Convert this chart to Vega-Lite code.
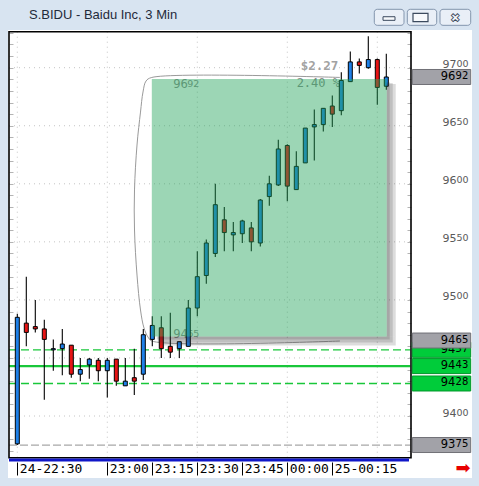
{
  "$schema": "https://vega.github.io/schema/vega-lite/v6.json",
  "width": 464,
  "height": 448,
  "autosize": {"type": "none"},
  "padding": {"left": 8, "top": 30, "right": 7, "bottom": 8},
  "background": "#d8e4f1",
  "view": {"fill": "white", "stroke": null},
  "title": {
    "text": "S.BIDU - Baidu Inc, 3 Min",
    "anchor": "start",
    "frame": "group",
    "dx": 21,
    "offset": -23,
    "baseline": "alphabetic",
    "font": "Liberation Sans",
    "fontSize": 13,
    "fontWeight": "normal",
    "color": "#1f2a3a"
  },
  "resolve": {"axis": {"x": "independent", "y": "independent"}},
  "datasets": {
    "candles": [
      {"time": "2024-06-24T22:30:00Z", "open": 9376, "high": 9488, "low": 9375, "close": 9485},
      {"time": "2024-06-24T22:33:00Z", "open": 9480, "high": 9520, "low": 9460, "close": 9472},
      {"time": "2024-06-24T22:36:00Z", "open": 9477, "high": 9500, "low": 9472, "close": 9475},
      {"time": "2024-06-24T22:39:00Z", "open": 9475, "high": 9483, "low": 9414, "close": 9466},
      {"time": "2024-06-24T22:42:00Z", "open": 9457, "high": 9466, "low": 9439, "close": 9458},
      {"time": "2024-06-24T22:45:00Z", "open": 9458, "high": 9475, "low": 9435, "close": 9462},
      {"time": "2024-06-24T22:48:00Z", "open": 9461, "high": 9461, "low": 9433, "close": 9436},
      {"time": "2024-06-24T22:51:00Z", "open": 9436, "high": 9450, "low": 9430, "close": 9440},
      {"time": "2024-06-24T22:54:00Z", "open": 9444, "high": 9450, "low": 9432, "close": 9449},
      {"time": "2024-06-24T22:57:00Z", "open": 9448, "high": 9450, "low": 9430, "close": 9439},
      {"time": "2024-06-24T23:00:00Z", "open": 9439, "high": 9450, "low": 9416, "close": 9448},
      {"time": "2024-06-24T23:03:00Z", "open": 9449, "high": 9449, "low": 9426, "close": 9430},
      {"time": "2024-06-24T23:06:00Z", "open": 9426, "high": 9450, "low": 9426, "close": 9430},
      {"time": "2024-06-24T23:09:00Z", "open": 9433, "high": 9458, "low": 9418, "close": 9430},
      {"time": "2024-06-24T23:12:00Z", "open": 9436, "high": 9475, "low": 9431, "close": 9470},
      {"time": "2024-06-24T23:15:00Z", "open": 9466, "high": 9486, "low": 9460, "close": 9478},
      {"time": "2024-06-24T23:18:00Z", "open": 9476, "high": 9486, "low": 9450, "close": 9458},
      {"time": "2024-06-24T23:21:00Z", "open": 9460, "high": 9489, "low": 9450, "close": 9455},
      {"time": "2024-06-24T23:24:00Z", "open": 9458, "high": 9464, "low": 9450, "close": 9464},
      {"time": "2024-06-24T23:27:00Z", "open": 9460, "high": 9500, "low": 9460, "close": 9493},
      {"time": "2024-06-24T23:30:00Z", "open": 9493, "high": 9542, "low": 9486, "close": 9520},
      {"time": "2024-06-24T23:33:00Z", "open": 9521, "high": 9552, "low": 9514, "close": 9549},
      {"time": "2024-06-24T23:36:00Z", "open": 9540, "high": 9600, "low": 9537, "close": 9582},
      {"time": "2024-06-24T23:39:00Z", "open": 9569, "high": 9580, "low": 9542, "close": 9558},
      {"time": "2024-06-24T23:42:00Z", "open": 9556, "high": 9567, "low": 9542, "close": 9558},
      {"time": "2024-06-24T23:45:00Z", "open": 9557, "high": 9569, "low": 9549, "close": 9568},
      {"time": "2024-06-24T23:48:00Z", "open": 9562, "high": 9567, "low": 9542, "close": 9550},
      {"time": "2024-06-24T23:51:00Z", "open": 9549, "high": 9587, "low": 9546, "close": 9586},
      {"time": "2024-06-24T23:54:00Z", "open": 9589, "high": 9607, "low": 9581, "close": 9600},
      {"time": "2024-06-24T23:57:00Z", "open": 9599, "high": 9638, "low": 9598, "close": 9630},
      {"time": "2024-06-25T00:00:00Z", "open": 9633, "high": 9634, "low": 9585, "close": 9598},
      {"time": "2024-06-25T00:03:00Z", "open": 9595, "high": 9628, "low": 9595, "close": 9615},
      {"time": "2024-06-25T00:06:00Z", "open": 9618, "high": 9648, "low": 9618, "close": 9648},
      {"time": "2024-06-25T00:09:00Z", "open": 9649, "high": 9664, "low": 9620, "close": 9651},
      {"time": "2024-06-25T00:12:00Z", "open": 9651, "high": 9665, "low": 9645, "close": 9665},
      {"time": "2024-06-25T00:15:00Z", "open": 9667, "high": 9676, "low": 9649, "close": 9660},
      {"time": "2024-06-25T00:18:00Z", "open": 9663, "high": 9696, "low": 9659, "close": 9689},
      {"time": "2024-06-25T00:21:00Z", "open": 9688, "high": 9714, "low": 9688, "close": 9705},
      {"time": "2024-06-25T00:24:00Z", "open": 9705, "high": 9708, "low": 9695, "close": 9702},
      {"time": "2024-06-25T00:27:00Z", "open": 9700, "high": 9727, "low": 9699, "close": 9707},
      {"time": "2024-06-25T00:30:00Z", "open": 9707, "high": 9708, "low": 9668, "close": 9683},
      {"time": "2024-06-25T00:33:00Z", "open": 9684, "high": 9712, "low": 9681, "close": 9692}
    ],
    "tags": [
      {"price": 9457, "big": "94", "small": "57", "tone": "alert"},
      {"price": 9375, "big": "93", "small": "75", "tone": "marker"},
      {"price": 9428, "big": "94", "small": "28", "tone": "alert"},
      {"price": 9443, "big": "94", "small": "43", "tone": "alert"},
      {"price": 9465, "big": "94", "small": "65", "tone": "marker"},
      {"price": 9692, "big": "96", "small": "92", "tone": "marker"}
    ],
    "bracket": [
      {"seq": 1, "time": "2024-06-25T00:17:34Z", "price": 9691.6},
      {"seq": 2, "time": "2024-06-24T23:14:50Z", "price": 9691.6},
      {"seq": 3, "time": "2024-06-24T23:12:54Z", "price": 9688.5},
      {"seq": 4, "time": "2024-06-24T23:11:54Z", "price": 9679.1},
      {"seq": 5, "time": "2024-06-24T23:11:04Z", "price": 9661.8},
      {"seq": 6, "time": "2024-06-24T23:09:54Z", "price": 9633.4},
      {"seq": 7, "time": "2024-06-24T23:09:04Z", "price": 9594.7},
      {"seq": 8, "time": "2024-06-24T23:09:04Z", "price": 9560.2},
      {"seq": 9, "time": "2024-06-24T23:09:54Z", "price": 9521.4},
      {"seq": 10, "time": "2024-06-24T23:11:04Z", "price": 9491.3},
      {"seq": 11, "time": "2024-06-24T23:12:14Z", "price": 9475.8},
      {"seq": 12, "time": "2024-06-24T23:13:34Z", "price": 9468.0},
      {"seq": 13, "time": "2024-06-24T23:14:50Z", "price": 9464.6},
      {"seq": 14, "time": "2024-06-25T00:17:34Z", "price": 9464.6}
    ]
  },
  "layer": [
    {
      "data": {"values": [{"price": 9400}, {"price": 9450}, {"price": 9500}, {"price": 9550}, {"price": 9600}, {"price": 9650}, {"price": 9700}]},
      "mark": {"type": "rule", "color": "#c4c4c4", "strokeDash": [1, 4], "strokeWidth": 1},
      "encoding": {
        "y": {
          "field": "price",
          "type": "quantitative",
          "axis": {
            "orient": "right",
            "offset": -61,
            "values": [9370, 9380, 9390, 9400, 9410, 9420, 9430, 9440, 9450, 9460, 9470, 9480, 9490, 9500, 9510, 9520, 9530, 9540, 9550, 9560, 9570, 9580, 9590, 9600, 9610, 9620, 9630, 9640, 9650, 9660, 9670, 9680, 9690, 9700, 9710, 9720, 9730],
            "labels": false,
            "domain": false,
            "grid": false,
            "ticks": true,
            "tickSize": -4,
            "tickColor": "#b4b4b4",
            "tickWidth": 1,
            "title": null
          }
        },
        "x": {"datum": {"year": 2024, "month": 6, "date": 24, "hours": 22, "minutes": 27, "seconds": 14, "utc": true}, "type": "temporal", "axis": null},
        "x2": {"datum": {"year": 2024, "month": 6, "date": 25, "hours": 0, "minutes": 41, "seconds": 14, "utc": true}}
      }
    },
    {
      "data": {"values": [{"t": "2024-06-24T22:30:00Z"}, {"t": "2024-06-24T23:00:00Z"}, {"t": "2024-06-24T23:30:00Z"}, {"t": "2024-06-25T00:00:00Z"}, {"t": "2024-06-25T00:30:00Z"}]},
      "mark": {"type": "rule", "color": "#c4c4c4", "strokeDash": [1, 4], "strokeWidth": 1},
      "encoding": {
        "x": {"field": "t", "type": "temporal", "axis": null},
        "y": {"datum": 9731, "type": "quantitative", "axis": null},
        "y2": {"datum": 9364}
      }
    },
    {
      "data": {"values": [{"level": 9375}]},
      "mark": {"type": "rule", "color": "#a8a8a8", "strokeDash": [8, 3], "strokeWidth": 1.2},
      "encoding": {
        "y": {
          "field": "level",
          "type": "quantitative",
          "axis": {
            "orient": "left",
            "offset": -1,
            "values": [9370, 9380, 9390, 9400, 9410, 9420, 9430, 9440, 9450, 9460, 9470, 9480, 9490, 9500, 9510, 9520, 9530, 9540, 9550, 9560, 9570, 9580, 9590, 9600, 9610, 9620, 9630, 9640, 9650, 9660, 9670, 9680, 9690, 9700, 9710, 9720, 9730],
            "labels": false,
            "domain": false,
            "grid": false,
            "ticks": true,
            "tickSize": -4,
            "tickColor": "#b4b4b4",
            "tickWidth": 1,
            "title": null
          }
        },
        "x": {"datum": {"year": 2024, "month": 6, "date": 24, "hours": 22, "minutes": 27, "seconds": 14, "utc": true}, "type": "temporal", "axis": null},
        "x2": {"datum": {"year": 2024, "month": 6, "date": 25, "hours": 0, "minutes": 41, "seconds": 0, "utc": true}}
      }
    },
    {
      "data": {"values": [{"level": 9457}, {"level": 9428}]},
      "mark": {"type": "rule", "color": "#19c73a", "strokeDash": [8, 4], "strokeWidth": 1.3},
      "encoding": {
        "y": {"field": "level", "type": "quantitative", "axis": null},
        "x": {"datum": {"year": 2024, "month": 6, "date": 24, "hours": 22, "minutes": 27, "seconds": 14, "utc": true}, "type": "temporal", "axis": null},
        "x2": {"datum": {"year": 2024, "month": 6, "date": 25, "hours": 0, "minutes": 41, "seconds": 0, "utc": true}}
      }
    },
    {
      "data": {"values": [{"level": 9443}]},
      "mark": {"type": "rule", "color": "#19c73a", "strokeWidth": 2.2},
      "encoding": {
        "y": {"field": "level", "type": "quantitative", "axis": null},
        "x": {"datum": {"year": 2024, "month": 6, "date": 24, "hours": 22, "minutes": 27, "seconds": 14, "utc": true}, "type": "temporal", "axis": null},
        "x2": {"datum": {"year": 2024, "month": 6, "date": 25, "hours": 0, "minutes": 41, "seconds": 0, "utc": true}}
      }
    },
    {
      "data": {"name": "bracket"},
      "mark": {"type": "line", "color": "#9a9a9a", "strokeWidth": 1, "interpolate": "catmull-rom"},
      "encoding": {
        "x": {"field": "time", "type": "temporal", "axis": null},
        "y": {"field": "price", "type": "quantitative", "axis": null},
        "order": {"field": "seq", "type": "quantitative"}
      }
    },
    {
      "data": {"values": [{}]},
      "mark": {"type": "text", "text": "$2.27", "align": "right", "baseline": "bottom", "dy": -4, "font": "DejaVu Sans Mono", "fontSize": 12.5, "fontWeight": "bold", "color": "#a2a2a2"},
      "encoding": {
        "x": {"datum": {"year": 2024, "month": 6, "date": 25, "hours": 0, "minutes": 17, "seconds": 0, "utc": true}, "type": "temporal", "axis": null},
        "y": {"datum": 9692, "type": "quantitative", "axis": null}
      }
    },
    {
      "data": {"values": [{}]},
      "mark": {"type": "text", "text": "2.40 %", "align": "right", "baseline": "top", "dy": 1, "font": "DejaVu Sans Mono", "fontSize": 12, "color": "#8c8c8c"},
      "encoding": {
        "x": {"datum": {"year": 2024, "month": 6, "date": 25, "hours": 0, "minutes": 17, "seconds": 34, "utc": true}, "type": "temporal", "axis": null},
        "y": {"datum": 9692, "type": "quantitative", "axis": null}
      }
    },
    {
      "data": {"values": [{"price": 9692, "big": "96", "small": "92"}]},
      "mark": {"type": "text", "align": "left", "baseline": "top", "dy": 2, "font": "DejaVu Sans", "fontSize": 11.5, "color": "#8c8c8c"},
      "encoding": {
        "x": {"datum": {"year": 2024, "month": 6, "date": 24, "hours": 23, "minutes": 22, "seconds": 0, "utc": true}, "type": "temporal", "axis": null},
        "y": {"field": "price", "type": "quantitative", "axis": null},
        "text": {"field": "big"}
      }
    },
    {
      "data": {"values": [{"price": 9692, "big": "96", "small": "92"}]},
      "mark": {"type": "text", "align": "left", "baseline": "top", "dy": 2, "dx": 14, "font": "DejaVu Sans", "fontSize": 9.5, "color": "#8c8c8c"},
      "encoding": {
        "x": {"datum": {"year": 2024, "month": 6, "date": 24, "hours": 23, "minutes": 22, "seconds": 0, "utc": true}, "type": "temporal", "axis": null},
        "y": {"field": "price", "type": "quantitative", "axis": null},
        "text": {"field": "small"}
      }
    },
    {
      "data": {"values": [{"price": 9465, "big": "94", "small": "65"}]},
      "mark": {"type": "text", "align": "left", "baseline": "top", "dy": -12, "font": "DejaVu Sans", "fontSize": 11.5, "color": "#8c8c8c"},
      "encoding": {
        "x": {"datum": {"year": 2024, "month": 6, "date": 24, "hours": 23, "minutes": 22, "seconds": 0, "utc": true}, "type": "temporal", "axis": null},
        "y": {"field": "price", "type": "quantitative", "axis": null},
        "text": {"field": "big"}
      }
    },
    {
      "data": {"values": [{"price": 9465, "big": "94", "small": "65"}]},
      "mark": {"type": "text", "align": "left", "baseline": "top", "dy": -12, "dx": 14, "font": "DejaVu Sans", "fontSize": 9.5, "color": "#8c8c8c"},
      "encoding": {
        "x": {"datum": {"year": 2024, "month": 6, "date": 24, "hours": 23, "minutes": 22, "seconds": 0, "utc": true}, "type": "temporal", "axis": null},
        "y": {"field": "price", "type": "quantitative", "axis": null},
        "text": {"field": "small"}
      }
    },
    {
      "data": {"name": "candles"},
      "mark": {"type": "rule", "color": "#000", "strokeWidth": 1.1},
      "encoding": {
        "x": {
          "field": "time",
          "type": "temporal",
          "scale": {
            "type": "utc",
            "domain": [
              {"year": 2024, "month": 6, "date": 24, "hours": 22, "minutes": 26, "seconds": 54, "utc": true},
              {"year": 2024, "month": 6, "date": 25, "hours": 1, "minutes": 1, "seconds": 34, "utc": true}
            ]
          },
          "axis": {
            "orient": "bottom",
            "offset": -16,
            "zindex": 1,
            "values": [1719268200000, 1719270000000, 1719270900000, 1719271800000, 1719272700000, 1719273600000, 1719274500000],
            "labelExpr": "(utchours(datum.value) == 22 ? '24-' : (utchours(datum.value) == 0 && utcminutes(datum.value) == 15 ? '25-' : '')) + utcFormat(datum.value, '%H:%M')",
            "domain": false,
            "grid": false,
            "ticks": true,
            "tickSize": 13,
            "tickColor": "#000",
            "tickWidth": 1,
            "labelAlign": "left",
            "labelBaseline": "middle",
            "labelPadding": -6.5,
            "labelOffset": 2,
            "labelFont": "DejaVu Sans Mono",
            "labelFontSize": 13,
            "labelColor": "#000",
            "labelFlush": false,
            "labelOverlap": false,
            "title": null
          }
        },
        "y": {
          "field": "low",
          "type": "quantitative",
          "scale": {"domain": [9346.6, 9732.47], "nice": false, "zero": false},
          "axis": {
            "orient": "right",
            "values": [9400, 9500, 9550, 9600, 9650, 9700],
            "labelExpr": "slice(format(datum.value, 'd'), 0, 2)",
            "labelAlign": "right",
            "labelBaseline": "top",
            "labelOffset": -9,
            "labelPadding": -16,
            "labelFont": "DejaVu Sans",
            "labelFontSize": 11,
            "labelColor": "#5a5a5a",
            "labelFlush": false,
            "labelOverlap": false,
            "ticks": false,
            "tickSize": 0,
            "domain": false,
            "grid": false,
            "title": null
          }
        },
        "y2": {"field": "high"}
      }
    },
    {
      "data": {"name": "candles"},
      "mark": {"type": "rect", "stroke": "#000", "strokeWidth": 1, "xOffset": -2, "x2Offset": 2},
      "encoding": {
        "x": {"field": "time", "type": "temporal", "axis": null},
        "x2": {"field": "time"},
        "y": {"field": "open", "type": "quantitative", "axis": null},
        "y2": {"field": "close"},
        "fill": {"condition": {"test": "datum.close >= datum.open", "value": "#1e80e8"}, "value": "#e61414"}
      }
    },
    {
      "data": {"values": [{}]},
      "mark": {"type": "rect", "color": "#303030", "opacity": 0.17, "yOffset": 5, "x2Offset": 3, "y2Offset": -4},
      "encoding": {
        "x": {"datum": {"year": 2024, "month": 6, "date": 25, "hours": 0, "minutes": 33, "seconds": 8, "utc": true}, "type": "temporal", "axis": null},
        "x2": {"datum": {"year": 2024, "month": 6, "date": 25, "hours": 0, "minutes": 33, "seconds": 8, "utc": true}},
        "y": {"datum": 9692, "type": "quantitative", "axis": null},
        "y2": {"datum": 9465}
      }
    },
    {
      "data": {"values": [{}]},
      "mark": {"type": "rect", "color": "#303030", "opacity": 0.17, "yOffset": 6, "x2Offset": 6, "y2Offset": -4},
      "encoding": {
        "x": {"datum": {"year": 2024, "month": 6, "date": 25, "hours": 0, "minutes": 33, "seconds": 8, "utc": true}, "type": "temporal", "axis": null},
        "x2": {"datum": {"year": 2024, "month": 6, "date": 25, "hours": 0, "minutes": 33, "seconds": 8, "utc": true}},
        "y": {"datum": 9692, "type": "quantitative", "axis": null},
        "y2": {"datum": 9465}
      }
    },
    {
      "data": {"values": [{}]},
      "mark": {"type": "rect", "color": "#303030", "opacity": 0.17, "yOffset": 7, "x2Offset": 9, "y2Offset": -4},
      "encoding": {
        "x": {"datum": {"year": 2024, "month": 6, "date": 25, "hours": 0, "minutes": 33, "seconds": 8, "utc": true}, "type": "temporal", "axis": null},
        "x2": {"datum": {"year": 2024, "month": 6, "date": 25, "hours": 0, "minutes": 33, "seconds": 8, "utc": true}},
        "y": {"datum": 9692, "type": "quantitative", "axis": null},
        "y2": {"datum": 9465}
      }
    },
    {
      "data": {"values": [{}]},
      "mark": {"type": "rect", "color": "#303030", "opacity": 0.17, "xOffset": 5, "x2Offset": 3, "yOffset": -4, "y2Offset": -1},
      "encoding": {
        "x": {"datum": {"year": 2024, "month": 6, "date": 24, "hours": 23, "minutes": 14, "seconds": 50, "utc": true}, "type": "temporal", "axis": null},
        "x2": {"datum": {"year": 2024, "month": 6, "date": 25, "hours": 0, "minutes": 33, "seconds": 8, "utc": true}},
        "y": {"datum": 9465, "type": "quantitative", "axis": null},
        "y2": {"datum": 9465}
      }
    },
    {
      "data": {"values": [{}]},
      "mark": {"type": "rect", "color": "#303030", "opacity": 0.17, "xOffset": 6, "x2Offset": 6, "yOffset": -4, "y2Offset": 2},
      "encoding": {
        "x": {"datum": {"year": 2024, "month": 6, "date": 24, "hours": 23, "minutes": 14, "seconds": 50, "utc": true}, "type": "temporal", "axis": null},
        "x2": {"datum": {"year": 2024, "month": 6, "date": 25, "hours": 0, "minutes": 33, "seconds": 8, "utc": true}},
        "y": {"datum": 9465, "type": "quantitative", "axis": null},
        "y2": {"datum": 9465}
      }
    },
    {
      "data": {"values": [{}]},
      "mark": {"type": "rect", "color": "#303030", "opacity": 0.17, "xOffset": 7, "x2Offset": 9, "yOffset": -4, "y2Offset": 5},
      "encoding": {
        "x": {"datum": {"year": 2024, "month": 6, "date": 24, "hours": 23, "minutes": 14, "seconds": 50, "utc": true}, "type": "temporal", "axis": null},
        "x2": {"datum": {"year": 2024, "month": 6, "date": 25, "hours": 0, "minutes": 33, "seconds": 8, "utc": true}},
        "y": {"datum": 9465, "type": "quantitative", "axis": null},
        "y2": {"datum": 9465}
      }
    },
    {
      "data": {"values": [{}]},
      "mark": {"type": "rect", "color": "#24a35a", "fillOpacity": 0.45, "yOffset": 2, "y2Offset": -4},
      "encoding": {
        "x": {"datum": {"year": 2024, "month": 6, "date": 24, "hours": 23, "minutes": 14, "seconds": 50, "utc": true}, "type": "temporal", "axis": null},
        "x2": {"datum": {"year": 2024, "month": 6, "date": 25, "hours": 0, "minutes": 33, "seconds": 8, "utc": true}},
        "y": {"datum": 9692, "type": "quantitative", "axis": null},
        "y2": {"datum": 9465}
      }
    },
    {
      "data": {"values": [{}]},
      "mark": {"type": "rect", "filled": false, "color": "#000", "strokeWidth": 1.6},
      "encoding": {
        "x": {"datum": {"year": 2024, "month": 6, "date": 24, "hours": 22, "minutes": 27, "seconds": 14, "utc": true}, "type": "temporal", "axis": null},
        "x2": {"datum": {"year": 2024, "month": 6, "date": 25, "hours": 0, "minutes": 41, "seconds": 14, "utc": true}},
        "y": {"datum": 9731, "type": "quantitative", "axis": null},
        "y2": {"datum": 9364}
      }
    },
    {
      "data": {"values": [{}]},
      "mark": {"type": "rule", "color": "#1016c8", "strokeWidth": 3},
      "encoding": {
        "x": {"datum": {"year": 2024, "month": 6, "date": 24, "hours": 22, "minutes": 27, "seconds": 14, "utc": true}, "type": "temporal", "axis": null},
        "x2": {"datum": {"year": 2024, "month": 6, "date": 25, "hours": 0, "minutes": 40, "seconds": 34, "utc": true}},
        "y": {"datum": 9362, "type": "quantitative", "axis": null}
      }
    },
    {
      "data": {"name": "tags"},
      "transform": [{"filter": "datum.price == 9457"}],
      "mark": {"type": "rect", "strokeWidth": 1, "yOffset": -7.5, "y2Offset": 7.5},
      "encoding": {
        "x": {"datum": {"year": 2024, "month": 6, "date": 25, "hours": 0, "minutes": 41, "seconds": 40, "utc": true}, "type": "temporal", "axis": null},
        "x2": {"datum": {"year": 2024, "month": 6, "date": 25, "hours": 1, "minutes": 1, "seconds": 8, "utc": true}},
        "y": {"field": "price", "type": "quantitative", "axis": null},
        "y2": {"field": "price"},
        "fill": {"field": "tone", "type": "nominal", "scale": {"domain": ["marker", "alert"], "range": ["#a2a2a8", "#00cc3a"]}, "legend": null},
        "stroke": {"field": "tone", "type": "nominal", "scale": {"domain": ["marker", "alert"], "range": ["#707076", "#00962a"]}, "legend": null}
      }
    },
    {
      "data": {"name": "tags"},
      "transform": [{"filter": "datum.price == 9457"}],
      "mark": {"type": "text", "align": "right", "baseline": "top", "dy": -6, "dx": -13, "font": "DejaVu Sans", "fontSize": 11.5, "color": "#000"},
      "encoding": {
        "x": {"datum": {"year": 2024, "month": 6, "date": 25, "hours": 1, "minutes": 0, "seconds": 20, "utc": true}, "type": "temporal", "axis": null},
        "y": {"field": "price", "type": "quantitative", "axis": null},
        "text": {"field": "big"}
      }
    },
    {
      "data": {"name": "tags"},
      "transform": [{"filter": "datum.price == 9457"}],
      "mark": {"type": "text", "align": "right", "baseline": "top", "dy": -6, "font": "DejaVu Sans", "fontSize": 10, "color": "#000"},
      "encoding": {
        "x": {"datum": {"year": 2024, "month": 6, "date": 25, "hours": 1, "minutes": 0, "seconds": 20, "utc": true}, "type": "temporal", "axis": null},
        "y": {"field": "price", "type": "quantitative", "axis": null},
        "text": {"field": "small"}
      }
    },
    {
      "data": {"name": "tags"},
      "transform": [{"filter": "datum.price != 9457"}],
      "mark": {"type": "rect", "strokeWidth": 1, "yOffset": -7.5, "y2Offset": 7.5},
      "encoding": {
        "x": {"datum": {"year": 2024, "month": 6, "date": 25, "hours": 0, "minutes": 41, "seconds": 40, "utc": true}, "type": "temporal", "axis": null},
        "x2": {"datum": {"year": 2024, "month": 6, "date": 25, "hours": 1, "minutes": 1, "seconds": 8, "utc": true}},
        "y": {
          "field": "price",
          "type": "quantitative",
          "axis": {
            "orient": "right",
            "values": [9400, 9500, 9550, 9600, 9650, 9700],
            "labelExpr": "slice(format(datum.value, 'd'), 2)",
            "labelAlign": "right",
            "labelBaseline": "top",
            "labelOffset": -9,
            "labelPadding": -4,
            "labelFont": "DejaVu Sans",
            "labelFontSize": 9.5,
            "labelColor": "#5a5a5a",
            "labelFlush": false,
            "labelOverlap": false,
            "ticks": false,
            "tickSize": 0,
            "domain": false,
            "grid": false,
            "title": null
          }
        },
        "y2": {"field": "price"},
        "fill": {"field": "tone", "type": "nominal", "scale": {"domain": ["marker", "alert"], "range": ["#a2a2a8", "#00cc3a"]}, "legend": null},
        "stroke": {"field": "tone", "type": "nominal", "scale": {"domain": ["marker", "alert"], "range": ["#707076", "#00962a"]}, "legend": null}
      }
    },
    {
      "data": {"name": "tags"},
      "transform": [{"filter": "datum.price != 9457"}],
      "mark": {"type": "text", "align": "right", "baseline": "top", "dy": -6, "dx": -13, "font": "DejaVu Sans", "fontSize": 11.5, "color": "#000"},
      "encoding": {
        "x": {"datum": {"year": 2024, "month": 6, "date": 25, "hours": 1, "minutes": 0, "seconds": 20, "utc": true}, "type": "temporal", "axis": null},
        "y": {"field": "price", "type": "quantitative", "axis": null},
        "text": {"field": "big"}
      }
    },
    {
      "data": {"name": "tags"},
      "transform": [{"filter": "datum.price != 9457"}],
      "mark": {"type": "text", "align": "right", "baseline": "top", "dy": -6, "font": "DejaVu Sans", "fontSize": 10, "color": "#000"},
      "encoding": {
        "x": {"datum": {"year": 2024, "month": 6, "date": 25, "hours": 1, "minutes": 0, "seconds": 20, "utc": true}, "type": "temporal", "axis": null},
        "y": {"field": "price", "type": "quantitative", "axis": null},
        "text": {"field": "small"}
      }
    },
    {
      "data": {"values": [{}]},
      "mark": {"type": "text", "text": "➡", "align": "center", "baseline": "middle", "font": "DejaVu Sans", "fontSize": 18, "color": "#e80000"},
      "encoding": {
        "x": {"datum": {"year": 2024, "month": 6, "date": 25, "hours": 0, "minutes": 58, "seconds": 34, "utc": true}, "type": "temporal", "axis": null},
        "y": {"datum": 9354.4, "type": "quantitative", "axis": null}
      }
    },
    {
      "data": {"values": [{}]},
      "mark": {"type": "rect", "fill": "#e9eff7", "stroke": "#8395ad", "strokeWidth": 1, "cornerRadius": 3},
      "encoding": {
        "x": {"datum": {"year": 2024, "month": 6, "date": 25, "hours": 0, "minutes": 29, "seconds": 0, "utc": true}, "type": "temporal", "axis": null},
        "x2": {"datum": {"year": 2024, "month": 6, "date": 25, "hours": 0, "minutes": 38, "seconds": 54, "utc": true}},
        "y": {"datum": 9750.3, "type": "quantitative", "axis": null},
        "y2": {"datum": 9736.5}
      }
    },
    {
      "data": {"values": [{}]},
      "mark": {"type": "rect", "fill": "#e9eff7", "stroke": "#8395ad", "strokeWidth": 1, "cornerRadius": 3},
      "encoding": {
        "x": {"datum": {"year": 2024, "month": 6, "date": 25, "hours": 0, "minutes": 40, "seconds": 0, "utc": true}, "type": "temporal", "axis": null},
        "x2": {"datum": {"year": 2024, "month": 6, "date": 25, "hours": 0, "minutes": 49, "seconds": 48, "utc": true}},
        "y": {"datum": 9750.3, "type": "quantitative", "axis": null},
        "y2": {"datum": 9736.5}
      }
    },
    {
      "data": {"values": [{}]},
      "mark": {"type": "rect", "fill": "#e9eff7", "stroke": "#8395ad", "strokeWidth": 1, "cornerRadius": 3},
      "encoding": {
        "x": {"datum": {"year": 2024, "month": 6, "date": 25, "hours": 0, "minutes": 50, "seconds": 54, "utc": true}, "type": "temporal", "axis": null},
        "x2": {"datum": {"year": 2024, "month": 6, "date": 25, "hours": 1, "minutes": 1, "seconds": 8, "utc": true}},
        "y": {"datum": 9750.3, "type": "quantitative", "axis": null},
        "y2": {"datum": 9736.5}
      }
    },
    {
      "data": {"values": [{}]},
      "mark": {"type": "rect", "fill": "#f7f9fc", "stroke": "#3c4a5e", "strokeWidth": 1},
      "encoding": {
        "x": {"datum": {"year": 2024, "month": 6, "date": 25, "hours": 0, "minutes": 31, "seconds": 54, "utc": true}, "type": "temporal", "axis": null},
        "x2": {"datum": {"year": 2024, "month": 6, "date": 25, "hours": 0, "minutes": 35, "seconds": 54, "utc": true}},
        "y": {"datum": 9743.9, "type": "quantitative", "axis": null},
        "y2": {"datum": 9740.8}
      }
    },
    {
      "data": {"values": [{}]},
      "mark": {"type": "rect", "fill": "#f7f9fc", "stroke": "#3c4a5e", "strokeWidth": 1.2},
      "encoding": {
        "x": {"datum": {"year": 2024, "month": 6, "date": 25, "hours": 0, "minutes": 41, "seconds": 54, "utc": true}, "type": "temporal", "axis": null},
        "x2": {"datum": {"year": 2024, "month": 6, "date": 25, "hours": 0, "minutes": 46, "seconds": 54, "utc": true}},
        "y": {"datum": 9746.8, "type": "quantitative", "axis": null},
        "y2": {"datum": 9739.6}
      }
    },
    {
      "data": {"values": [{}]},
      "mark": {"type": "text", "text": "✖", "align": "center", "baseline": "middle", "font": "DejaVu Sans", "fontSize": 12, "fill": "#f4f6f9", "stroke": "#3c4a5e", "strokeWidth": 0.8},
      "encoding": {
        "x": {"datum": {"year": 2024, "month": 6, "date": 25, "hours": 0, "minutes": 56, "seconds": 0, "utc": true}, "type": "temporal", "axis": null},
        "y": {"datum": 9743.2, "type": "quantitative", "axis": null}
      }
    }
  ]
}
